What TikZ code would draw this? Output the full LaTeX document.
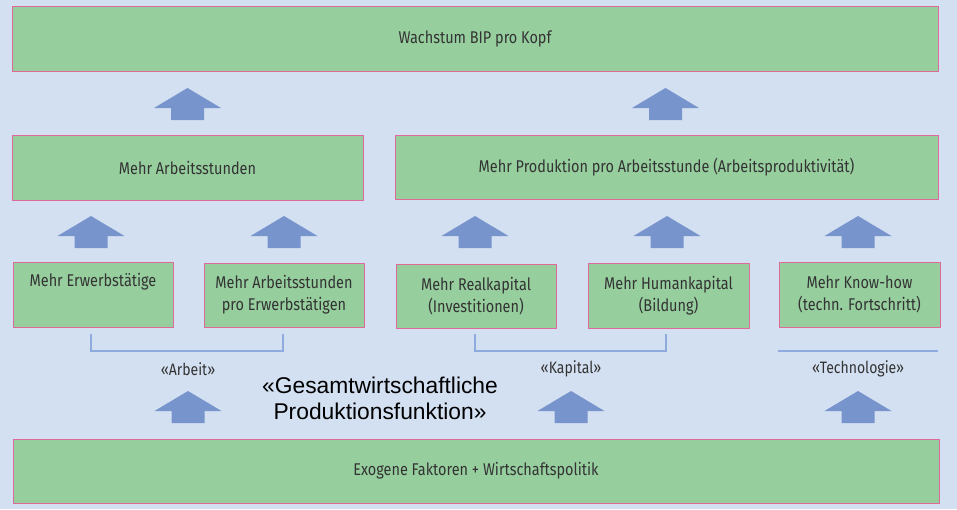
\documentclass[tikz,border=0pt]{standalone}
\usepackage{fontspec}
\setmainfont{Fira Sans}[FakeStretch=0.85]
\newfontfamily\arialfont{Liberation Sans}
\definecolor{bg}{HTML}{D3E0F2}
\definecolor{boxgreen}{HTML}{96CE9E}
\definecolor{boxborder}{HTML}{DD6A9A}
\definecolor{arrowblue}{HTML}{7794CC}
\definecolor{brk}{HTML}{8FAADC}
\definecolor{txt}{HTML}{333333}
\begin{document}
\begin{tikzpicture}[x=1pt,y=-1pt,
  box/.style={draw=boxborder, fill=boxgreen, line width=0.9pt, text=txt,
    font=\fontsize{17}{22}\selectfont, align=center, inner sep=0pt},
  lbl/.style={text=txt, font=\fontsize{16.5}{20}\selectfont, inner sep=0pt},
  brack/.style={draw=brk, line width=1.3pt},
  uparr/.pic={\fill[arrowblue] (0,0) -- (33.5,20) -- (16.5,20) -- (16.5,32) -- (-16.5,32) -- (-16.5,20) -- (-33.5,20) -- cycle;}]
\fill[bg] (0,0) rectangle (957,509);
\useasboundingbox (0,0) rectangle (957,509);

% top
\node[box, minimum width=926pt, minimum height=65pt] (top) at (475,38.5) {Wachstum BIP pro Kopf};
% row 2
\node[box, minimum width=351pt, minimum height=65pt] (arb) at (187.5,167.5) {Mehr Arbeitsstunden};
\node[box, minimum width=543pt, minimum height=64pt] (prod) at (666.5,167) {Mehr Produktion pro Arbeitsstunde (Arbeitsproduktivität)};
% row 3
\node[box, minimum width=160pt, minimum height=65pt] (erw) at (93,294.5) {Mehr Erwerbstätige\\\strut};
\node[box, minimum width=160pt, minimum height=64pt] (std) at (284,295) {Mehr Arbeitsstunden\\pro Erwerbstätigen};
\node[box, minimum width=160pt, minimum height=64pt] (real) at (476,296) {Mehr Realkapital\\(Investitionen)};
\node[box, minimum width=161pt, minimum height=65pt] (human) at (668.5,295.5) {Mehr Humankapital\\(Bildung)};
\node[box, minimum width=161pt, minimum height=65pt] (know) at (859.5,294.5) {Mehr Know-how\\(techn. Fortschritt)};
% bottom
\node[box, minimum width=926pt, minimum height=64pt] (exo) at (476,471) {Exogene Faktoren + Wirtschaftspolitik};

% arrows
\pic at (187.5,88) {uparr};
\pic at (665.5,88) {uparr};
\pic at (91,216) {uparr};
\pic at (284,216) {uparr};
\pic at (475,216) {uparr};
\pic at (667,216) {uparr};
\pic at (858,216) {uparr};
\pic at (188,391) {uparr};
\pic at (571,391) {uparr};
\pic at (858,391) {uparr};

% brackets
\coordinate (a1) at (91,334); \coordinate (a2) at (283,334);
\coordinate (k1) at (475,334); \coordinate (k2) at (666,334);
\coordinate (t1) at (778,351); \coordinate (t2) at (938,351);
\draw[brack] (a1) |- (a2 |- 0,351) -- (a2);
\draw[brack] (k1) |- (k2 |- 0,351) -- (k2);
\draw[brack] (t1) -- (t2);

% labels
\node[lbl] (larb) at (188,369) {«Arbeit»};
\node[lbl] (lkap) at (571,369) {«Kapital»};
\node[lbl] (ltec) at (858,369) {«Technologie»};
\node[align=center, inner sep=0pt, font=\arialfont\fontsize{22.8}{26}\selectfont] (gpf) at (380,398) {«Gesamtwirtschaftliche\\Produktionsfunktion»};
\end{tikzpicture}
\end{document}
